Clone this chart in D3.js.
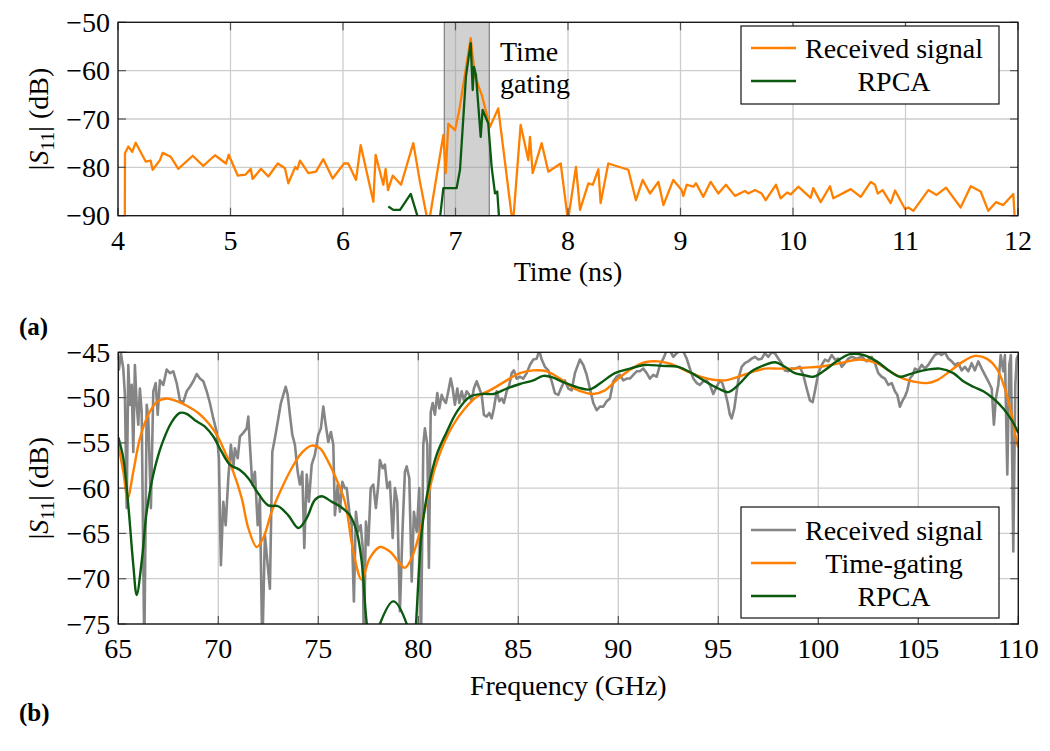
<!DOCTYPE html>
<html>
<head>
<meta charset="utf-8">
<script src="https://cdn.jsdelivr.net/npm/d3@7"></script>
<style>
  html, body { margin: 0; padding: 0; background: #fff; }
  svg { display: block; font-family: "Liberation Serif", "Times New Roman", serif; }
</style>
</head>
<body>
<svg id="chart" width="1050" height="751"></svg>
<script>
// ---------------- DATA ----------------
// (a) time domain
const timeTicks = [4, 5, 6, 7, 8, 9, 10, 11, 12];
const timeDbTicks = [-90, -80, -70, -60, -50];
const timeGate = [6.9, 7.3];
const timeGateLabel = ["Time", "gating"];

const recvTime = [4.06, 4.062, 4.092, 4.127, 4.157, 4.246, 4.29, 4.308, 4.373, 4.397, 4.468, 4.536, 4.664, 4.758, 4.862, 4.96, 4.984,
  5.064, 5.135, 5.18, 5.197, 5.271, 5.336, 5.42, 5.484, 5.514, 5.576, 5.594, 5.618, 5.692, 5.76, 5.825, 5.908,
  6.009, 6.047, 6.116, 6.157, 6.27, 6.29, 6.358, 6.379, 6.4, 6.442, 6.516, 6.625, 6.684, 6.76, 6.892, 6.913, 6.936, 6.996,
  7.034, 7.135, 7.173, 7.233, 7.307, 7.38, 7.51, 7.579, 7.647, 7.662, 7.686, 7.766, 7.825, 7.935, 8.0,
  8.071, 8.107, 8.181, 8.22, 8.27, 8.29, 8.358, 8.536, 8.604, 8.664, 8.729, 8.803, 8.848, 8.936, 9.01, 9.025, 9.055,
  9.114, 9.138, 9.203, 9.268, 9.336, 9.404, 9.484, 9.573, 9.603, 9.662, 9.721, 9.757, 9.849, 9.89, 9.948, 9.98,
  10.047, 10.157, 10.18, 10.246, 10.329, 10.358, 10.513, 10.602, 10.691, 10.729, 10.753, 10.797, 10.868, 10.907, 10.996,
  11.025, 11.07, 11.203, 11.277, 11.36, 11.49, 11.58, 11.668, 11.736, 11.804, 11.869, 11.958, 11.985];
const recvDb = [-96, -77.1, -75.7, -76.8, -74.9, -78.8, -78.6, -80.5, -78.5, -77.0, -77.8, -80.3, -77.6, -79.7, -77.5, -79.2, -77.4,
  -81.7, -81.5, -80.3, -82.4, -80.3, -81.9, -79.2, -80.2, -83.3, -79.9, -80.4, -78.6, -81.2, -80.9, -78.3, -82.3,
  -79.2, -79.2, -82.6, -75.4, -87.1, -77.4, -83.6, -80.3, -84.7, -81.7, -83.6, -75.0, -83.0, -92, -73.3, -81.2, -71.0, -72.3,
  -68.1, -53.3, -61.2, -65.0, -71.6, -67.8, -92, -71.2, -78.5, -73.7, -81.2, -75.0, -80.9, -79.2, -91,
  -79.9, -88.8, -83.3, -83.6, -80.4, -87.4, -79.2, -80.5, -86.8, -82.6, -85.4, -83.0, -87.8, -82.6, -84.7, -85.9, -83.6,
  -84.0, -83.3, -86.1, -83.0, -85.4, -83.6, -85.9, -84.9, -85.4, -84.7, -85.4, -86.8, -83.6, -86.4, -85.2, -85.6,
  -84.0, -86.3, -84.3, -87.2, -83.9, -86.4, -84.5, -86.1, -83.0, -83.6, -85.4, -84.7, -87.4, -84.8, -88.6,
  -88.3, -89.0, -84.7, -85.7, -84.2, -88.3, -83.9, -85.0, -89.0, -87.2, -87.8, -85.5, -96];

const rpcaTime = [6.403, 6.447, 6.507, 6.602, 6.7, 6.85, 6.892, 7.01, 7.04, 7.093, 7.135, 7.153, 7.164, 7.182, 7.224, 7.241, 7.291, 7.321, 7.351, 7.371, 7.395];
const rpcaTimeDb = [-88.1, -88.8, -88.8, -85.5, -93, -93, -84.3, -84.3, -80.5, -61.2, -54.3, -64.0, -59.2, -60.9, -73.7, -68.1, -70.9, -79.9, -85.4, -85.0, -93];

// (b) frequency domain
const freqTicks = [65, 70, 75, 80, 85, 90, 95, 100, 105, 110];
const freqDbTicks = [-75, -70, -65, -60, -55, -50, -45];

const recvFreq = [65.0, 65.03, 65.13, 65.25, 65.33, 65.42, 65.5, 65.58, 65.67, 65.75, 65.83, 65.92, 66.0, 66.08, 66.17, 66.3, 66.42, 66.5, 66.63, 66.75, 66.87, 66.97,
  67.08, 67.25, 67.42, 67.58, 67.75, 67.92, 68.08, 68.25, 68.42, 68.58, 68.75, 68.92, 69.08, 69.25, 69.42, 69.58, 69.75, 69.92,
  70.03, 70.13, 70.25, 70.37, 70.5, 70.63, 70.75, 70.83, 70.97, 71.08, 71.25, 71.42, 71.5, 71.58, 71.7, 71.83, 71.97,
  72.08, 72.2, 72.33, 72.47, 72.58, 72.7, 72.83, 73.0, 73.13, 73.25, 73.37, 73.47, 73.58, 73.7, 73.83, 73.97,
  74.08, 74.2, 74.3, 74.42, 74.53, 74.67, 74.83, 75.0, 75.13, 75.25, 75.37, 75.5, 75.63, 75.75, 75.83, 75.97,
  76.08, 76.2, 76.33, 76.42, 76.55, 76.67, 76.78, 76.88, 77.0, 77.12, 77.22, 77.28, 77.38, 77.5, 77.62, 77.75, 77.88,
  78.0, 78.08, 78.22, 78.33, 78.45, 78.58, 78.72, 78.83, 78.95, 79.08, 79.22, 79.33, 79.42, 79.55, 79.67, 79.78, 79.92,
  80.05, 80.13, 80.25, 80.33, 80.45, 80.53, 80.62, 80.72, 80.83, 80.95, 81.05, 81.17, 81.28, 81.38, 81.5, 81.62, 81.72, 81.83, 81.95,
  82.05, 82.17, 82.28, 82.42, 82.55, 82.67, 82.78, 82.92, 83.05, 83.17, 83.28, 83.42, 83.55, 83.67, 83.78, 83.92,
  84.05, 84.17, 84.28, 84.42, 84.55, 84.67, 84.78, 84.92, 85.08, 85.25, 85.42, 85.58, 85.75, 85.92,
  86.05, 86.17, 86.33, 86.5, 86.67, 86.83, 87.0, 87.17, 87.33, 87.5, 87.67, 87.83,
  88.08, 88.25, 88.42, 88.58, 88.75, 88.92, 89.08, 89.25, 89.42, 89.58, 89.75, 89.92,
  90.08, 90.25, 90.42, 90.58, 90.75, 90.92, 91.08, 91.25, 91.42, 91.58, 91.75, 91.92,
  92.08, 92.25, 92.42, 92.58, 92.75, 92.92, 93.08, 93.25, 93.42, 93.58, 93.75, 93.92,
  94.08, 94.25, 94.42, 94.58, 94.75, 94.92, 95.08, 95.2, 95.33, 95.47, 95.58, 95.67, 95.8, 95.92,
  96.03, 96.17, 96.33, 96.5, 96.67, 96.83, 97.0, 97.17, 97.33, 97.5, 97.67, 97.83,
  98.0, 98.17, 98.33, 98.5, 98.67, 98.83, 99.08, 99.25, 99.42, 99.58, 99.72, 99.83,
  100.0, 100.17, 100.33, 100.5, 100.67, 100.83, 101.0, 101.17, 101.33, 101.5, 101.67, 101.92,
  102.17, 102.42, 102.67, 102.83, 103.0, 103.17, 103.33, 103.5, 103.67, 103.83, 103.95,
  104.08, 104.22, 104.33, 104.45, 104.58, 104.72, 104.83, 105.0, 105.17, 105.33, 105.5, 105.67, 105.83,
  106.0, 106.17, 106.33, 106.5, 106.67, 106.83, 107.0, 107.17, 107.33, 107.5, 107.67, 107.83,
  108.0, 108.17, 108.33, 108.5, 108.67, 108.78, 108.88, 109.0, 109.12, 109.25, 109.33, 109.45, 109.55, 109.63, 109.75, 109.85, 109.92, 110.0];
const recvFreqDb = [-45.5, -46.9, -45.1, -46.8, -49.7, -62.2, -46.4, -50.8, -48.6, -56.0, -46.4, -50.8, -53.0, -49.0, -51.6, -78, -50.8, -52.3, -62.2, -49.3, -48.4, -51.9,
  -48.1, -48.6, -46.9, -47.3, -47.1, -48.4, -50.3, -50.5, -49.3, -48.8, -48.2, -47.4, -47.9, -48.2, -49.3, -50.6, -52.3, -53.8,
  -56.7, -68.5, -61.5, -64.1, -58.9, -55.2, -57.8, -55.6, -56.7, -54.3, -53.9, -53.4, -52.1, -55.2, -59.6, -58.2, -64.1,
  -61.1, -78, -65.2, -68.5, -71.1, -56.0, -54.5, -52.3, -50.6, -49.7, -48.8, -49.7, -51.9, -54.1, -55.2, -58.2,
  -59.6, -58.2, -66.6, -58.5, -61.5, -57.4, -56.3, -54.1, -53.4, -51.0, -53.0, -54.9, -53.8, -55.2, -63.0, -59.6,
  -62.6, -59.3, -60.0, -60.0, -62.6, -64.1, -72.5, -62.6, -64.8, -64.1, -66.6, -78, -63.7, -66.3, -60.0, -59.6, -62.2,
  -59.6, -56.9, -57.8, -57.4, -60.0, -59.3, -65.5, -60.0, -61.5, -73.6, -64.1, -58.2, -57.6, -58.9, -70.3, -62.6, -64.8,
  -60.0, -78, -55.2, -53.4, -55.2, -68.8, -51.6, -50.6, -51.9, -49.5, -51.2, -49.7, -50.3, -50.6, -49.3, -47.9, -49.0, -50.8, -49.0,
  -50.6, -49.3, -50.3, -49.3, -49.7, -50.4, -49.0, -48.2, -49.0, -49.7, -51.9, -52.1, -51.7, -52.3, -51.2, -49.3,
  -50.4, -50.1, -50.6, -49.3, -48.6, -47.3, -47.0, -47.9, -47.7, -47.9, -47.3, -46.4, -45.8, -45.7,
  -44.8, -45.8, -46.6, -47.0, -48.2, -49.5, -49.7, -48.8, -48.1, -49.0, -49.2, -47.3,
  -45.8, -46.4, -47.5, -49.0, -50.6, -51.4, -51.0, -51.0, -50.4, -50.1, -48.2, -47.7,
  -47.5, -48.1, -47.9, -47.9, -47.5, -47.1, -47.1, -46.8, -47.3, -47.9, -47.5, -47.7,
  -46.4, -45.7, -44.8, -44.8, -45.5, -45.1, -44.8, -44.9, -45.7, -46.8, -47.9, -48.4,
  -48.6, -48.2, -48.1, -48.6, -49.6, -48.8, -48.1, -48.4, -49.3, -50.6, -51.9, -52.3, -51.2, -49.3,
  -47.7, -46.6, -46.2, -46.0, -45.7, -45.5, -45.8, -45.7, -45.1, -45.5, -45.0, -45.1,
  -45.7, -46.2, -47.0, -47.1, -46.8, -46.8, -46.6, -47.5, -49.0, -50.3, -50.5, -49.3,
  -47.3, -46.4, -45.8, -46.0, -45.3, -45.8, -45.7, -46.6, -46.2, -45.7, -45.5, -45.7,
  -45.5, -46.0, -45.5, -46.2, -47.3, -47.7, -47.9, -48.6, -48.4, -49.3, -49.7,
  -51.0, -50.3, -49.9, -49.2, -47.9, -47.5, -46.8, -47.0, -46.4, -46.8, -46.4, -45.8, -45.3,
  -45.1, -45.3, -45.0, -45.7, -46.0, -46.4, -46.2, -47.0, -46.6, -47.1, -46.2, -47.0,
  -46.0, -46.8, -47.5, -48.2, -49.0, -53.0, -50.1, -48.6, -45.3, -47.1, -45.3, -58.5, -46.4, -45.3, -67.0, -48.6, -45.7, -45.3];

const gateFreq = [65.0, 65.25, 65.47, 65.75, 66.08, 66.5, 66.92, 67.42, 67.92, 68.42, 69.0, 69.5, 69.92, 70.33, 70.75, 71.17, 71.5, 71.92,
  72.25, 72.67, 73.17, 73.67, 74.17, 74.67, 75.08, 75.5, 75.92, 76.33, 76.75, 77.17, 77.58, 78.08, 78.58, 79.0, 79.33, 79.67,
  80.08, 80.42, 80.83, 81.25, 81.75, 82.33, 82.92, 83.58, 84.42, 85.08, 85.75, 86.42, 87.08, 87.58, 88.0, 88.75, 89.33,
  90.0, 90.67, 91.33, 92.0, 92.67, 93.33, 94.0, 94.67, 95.33, 96.0, 96.67, 97.33, 98.0, 98.83, 99.25, 100.08, 101.08, 102.08,
  102.92, 103.58, 104.25, 104.92, 105.42, 105.92, 106.58, 107.25, 107.83, 108.42, 108.92, 109.33, 109.67, 109.92, 110.0];
const gateDb = [-55.2, -58.2, -61.1, -58.2, -54.5, -51.9, -50.5, -50.1, -50.4, -50.9, -51.7, -52.8, -54.1, -56.0, -58.2, -61.1, -64.4, -66.5,
  -65.5, -62.6, -60.0, -57.8, -56.1, -55.3, -55.6, -57.1, -59.1, -61.5, -67.0, -70.1, -67.7, -66.5, -67.0, -68.1, -68.8, -67.7,
  -64.8, -61.5, -57.8, -55.2, -53.0, -51.2, -49.9, -49.2, -48.1, -47.3, -47.0, -47.1, -47.9, -48.7, -49.2, -49.6, -49.2,
  -47.9, -46.8, -46.1, -46.0, -46.3, -47.0, -47.6, -48.0, -48.1, -47.7, -47.2, -46.8, -46.8, -46.8, -46.7, -46.6, -46.2, -45.8,
  -46.2, -47.1, -47.9, -48.3, -48.4, -48.1, -47.1, -46.0, -45.4, -45.7, -46.8, -49.0, -51.9, -54.9, -55.5];

const rpcaFreq = [65.0, 65.25, 65.5, 65.75, 65.92, 66.17, 66.42, 66.75, 67.17, 67.67, 68.08, 68.42, 68.83, 69.33, 69.75, 70.17, 70.58,
  71.08, 71.5, 72.0, 72.5, 73.0, 73.5, 74.0, 74.42, 74.83, 75.17, 75.67, 76.08, 76.58, 76.92, 77.17, 77.42, 77.7, 78.08, 78.75,
  79.42, 79.7, 80.17, 80.5, 80.92, 81.42, 81.92, 82.58, 83.25, 83.75, 84.42, 85.08, 85.75, 86.25, 86.75, 87.25, 88.0, 88.58,
  89.17, 89.83, 90.58, 91.33, 92.17, 93.0, 93.67, 94.33, 95.0, 95.5, 96.0, 96.67, 97.33, 97.83, 98.33, 98.83, 99.25, 99.75,
  100.25, 100.92, 101.58, 102.25, 102.92, 103.58, 104.08, 104.58, 105.25, 106.08, 106.75, 107.25, 107.75, 108.25, 108.75,
  109.25, 109.67, 110.0];
const rpcaDb = [-54.4, -56.7, -61.9, -68.5, -71.8, -68.1, -62.6, -58.5, -55.2, -52.7, -51.7, -51.8, -52.5, -53.2, -54.3, -56.0, -57.4,
  -58.0, -58.9, -60.6, -61.9, -62.0, -63.0, -64.4, -63.3, -61.3, -60.9, -61.5, -62.0, -63.0, -64.8, -68.1, -74.9, -79, -75.0, -72.5,
  -75.0, -79, -64.8, -60.0, -56.3, -53.8, -51.6, -49.9, -49.6, -49.6, -49.0, -48.5, -48.1, -47.6, -47.8, -48.3, -48.9, -49.1,
  -48.3, -47.3, -46.8, -46.4, -46.5, -46.6, -47.3, -48.2, -49.0, -49.4, -48.6, -47.1, -46.4, -46.1, -46.6, -47.3, -47.5, -47.7,
  -47.1, -46.0, -45.2, -45.3, -46.0, -47.1, -47.7, -47.4, -47.0, -46.8, -47.3, -48.2, -48.8, -49.3, -50.1,
  -51.2, -52.5, -53.9];

const legendA = ["Received signal", "RPCA"];
const legendB = ["Received signal", "Time-gating", "RPCA"];

// ---------------- STYLE / LAYOUT ----------------
const COL = { orange: "#ff8000", green: "#0b5a0f", gray: "#858585", grid: "#cdcdcd" };
const svg = d3.select("#chart");
const FONT = 28;

function makePanel(cfg) {
  const g = svg.append("g");
  const x = d3.scaleLinear().domain(cfg.xDomain).range([cfg.left, cfg.right]);
  const y = d3.scaleLinear().domain(cfg.yDomain).range([cfg.bottom, cfg.top]);
  const clipId = cfg.id + "-clip";
  svg.append("defs").append("clipPath").attr("id", clipId)
    .append("rect").attr("x", cfg.left).attr("y", cfg.top)
    .attr("width", cfg.right - cfg.left).attr("height", cfg.bottom - cfg.top);

  // grid
  const grid = g.append("g").attr("stroke", COL.grid).attr("stroke-width", 1.3);
  cfg.xTicks.forEach(v => grid.append("line").attr("x1", x(v)).attr("x2", x(v)).attr("y1", cfg.top).attr("y2", cfg.bottom));
  cfg.yTicks.forEach(v => grid.append("line").attr("y1", y(v)).attr("y2", y(v)).attr("x1", cfg.left).attr("x2", cfg.right));

  return { g, x, y, clipId };
}

function tickMarks(p, cfg) {
  const t = p.g.append("g").attr("stroke", "#555").attr("stroke-width", 1.2);
  const L = 8;
  cfg.xTicks.forEach(v => {
    t.append("line").attr("x1", p.x(v)).attr("x2", p.x(v)).attr("y1", cfg.bottom).attr("y2", cfg.bottom - L);
    t.append("line").attr("x1", p.x(v)).attr("x2", p.x(v)).attr("y1", cfg.top).attr("y2", cfg.top + L);
  });
  cfg.yTicks.forEach(v => {
    t.append("line").attr("y1", p.y(v)).attr("y2", p.y(v)).attr("x1", cfg.left).attr("x2", cfg.left + L);
    t.append("line").attr("y1", p.y(v)).attr("y2", p.y(v)).attr("x1", cfg.right).attr("x2", cfg.right - L);
  });
  // frame
  p.g.append("rect").attr("x", cfg.left).attr("y", cfg.top)
    .attr("width", cfg.right - cfg.left).attr("height", cfg.bottom - cfg.top)
    .attr("fill", "none").attr("stroke", "#111").attr("stroke-width", 1.3);

  // tick labels
  const fmt = v => (v < 0 ? "\u2212" + Math.abs(v) : String(v));
  cfg.xTicks.forEach(v => p.g.append("text").attr("x", p.x(v)).attr("y", cfg.bottom + 34)
    .attr("text-anchor", "middle").attr("font-size", FONT).text(fmt(v)));
  cfg.yTicks.forEach(v => p.g.append("text").attr("x", cfg.left - 8).attr("y", p.y(v) + 9.5)
    .attr("text-anchor", "end").attr("font-size", FONT).text(fmt(v)));

  // axis labels
  p.g.append("text").attr("x", (cfg.left + cfg.right) / 2).attr("y", cfg.xLabelY)
    .attr("text-anchor", "middle").attr("font-size", FONT).text(cfg.xLabel);
  const yl = p.g.append("text")
    .attr("transform", `translate(${cfg.yLabelX},${(cfg.top + cfg.bottom) / 2}) rotate(-90)`)
    .attr("text-anchor", "middle").attr("font-size", FONT);
  yl.append("tspan").text("|");
  yl.append("tspan").attr("font-style", "italic").text("S");
  yl.append("tspan").attr("font-size", FONT * 0.7).attr("dy", 6).text("11");
  yl.append("tspan").attr("dy", -6).text("| (dB)");
}

function drawLine(p, xs, ys, color, width, curve) {
  const pts = xs.map((v, i) => [v, ys[i]]);
  const line = d3.line().x(d => p.x(d[0])).y(d => p.y(d[1])).curve(curve || d3.curveLinear);
  p.g.append("path").attr("clip-path", `url(#${p.clipId})`)
    .attr("d", line(pts)).attr("fill", "none").attr("stroke", color)
    .attr("stroke-width", width).attr("stroke-linejoin", "round").attr("stroke-linecap", "butt");
}

function legend(p, box, rows) {
  const lg = p.g.append("g");
  lg.append("rect").attr("x", box.x).attr("y", box.y).attr("width", box.w).attr("height", box.h)
    .attr("fill", "#fff").attr("stroke", "#111").attr("stroke-width", 1.2);
  rows.forEach((r, i) => {
    const cy = box.firstY + i * box.step;
    lg.append("line").attr("x1", box.x + 10).attr("x2", box.x + 55).attr("y1", cy).attr("y2", cy)
      .attr("stroke", r.color).attr("stroke-width", 2.4);
    lg.append("text").attr("x", box.textX).attr("y", cy + 9.5).attr("text-anchor", "middle")
      .attr("font-size", FONT).text(r.label);
  });
}

// ---------------- PANEL (a) ----------------
const cfgA = { id: "a", xDomain: [4, 12], yDomain: [-90, -50], left: 118, right: 1018, top: 22.3, bottom: 215.7,
  xTicks: timeTicks, yTicks: timeDbTicks, xLabel: "Time (ns)", xLabelY: 281, yLabelX: 48 };
const pA = makePanel(cfgA);
// time-gating window (semi-transparent so grid shows through)
pA.g.append("rect").attr("x", pA.x(timeGate[0])).attr("y", cfgA.top)
  .attr("width", pA.x(timeGate[1]) - pA.x(timeGate[0])).attr("height", cfgA.bottom - cfgA.top)
  .attr("fill", "#9a9a9a").attr("fill-opacity", 0.45).attr("stroke", "#6e6e6e").attr("stroke-width", 1);
drawLine(pA, recvTime, recvDb, COL.orange, 2.3);
drawLine(pA, rpcaTime, rpcaTimeDb, COL.green, 2.3);
tickMarks(pA, cfgA);
pA.g.append("text").attr("x", 500).attr("y", 61).attr("font-size", FONT).text(timeGateLabel[0]);
pA.g.append("text").attr("x", 500).attr("y", 93).attr("font-size", FONT).text(timeGateLabel[1]);
legend(pA, { x: 741, y: 26, w: 258, h: 78, firstY: 48, step: 33, textX: 894 },
  [{ label: legendA[0], color: COL.orange }, { label: legendA[1], color: COL.green }]);
svg.append("text").attr("x", 19).attr("y", 335).attr("font-size", 25).attr("font-weight", "bold").text("(a)");

// ---------------- PANEL (b) ----------------
const cfgB = { id: "b", xDomain: [65, 110], yDomain: [-75, -45], left: 118.3, right: 1018.3, top: 352.3, bottom: 624,
  xTicks: freqTicks, yTicks: freqDbTicks, xLabel: "Frequency (GHz)", xLabelY: 695, yLabelX: 48 };
const pB = makePanel(cfgB);
drawLine(pB, recvFreq, recvFreqDb, COL.gray, 2.6);
drawLine(pB, gateFreq, gateDb, COL.orange, 2.4, d3.curveCatmullRom.alpha(0.5));
drawLine(pB, rpcaFreq, rpcaDb, COL.green, 2.4, d3.curveCatmullRom.alpha(0.5));
tickMarks(pB, cfgB);
legend(pB, { x: 741, y: 507, w: 258, h: 111, firstY: 530, step: 33, textX: 894 },
  [{ label: legendB[0], color: COL.gray }, { label: legendB[1], color: COL.orange }, { label: legendB[2], color: COL.green }]);
svg.append("text").attr("x", 19).attr("y", 721).attr("font-size", 25).attr("font-weight", "bold").text("(b)");
</script>
</body>
</html>
